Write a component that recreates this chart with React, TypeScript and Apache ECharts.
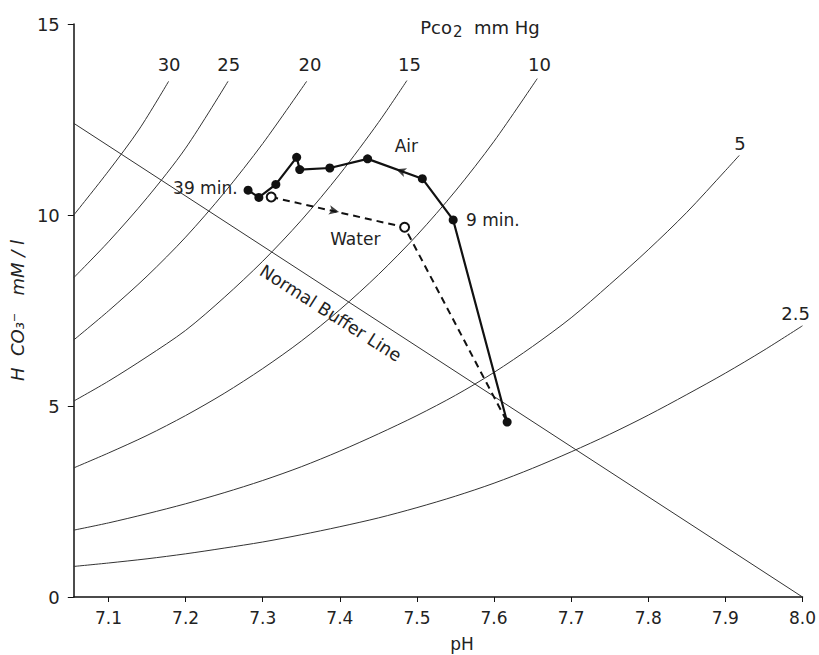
import React, { useEffect, useRef } from "react";
import * as echarts from "echarts";

// ---- data ----
const pHTicks = [7.1, 7.2, 7.3, 7.4, 7.5, 7.6, 7.7, 7.8, 7.9, 8.0];

// Pco2 isopleths: [pH, HCO3- mM/l]
const pco2_30 = [[7.055, 10.0], [7.1, 11.15], [7.14, 12.25], [7.178, 13.5]];
const pco2_25 = [[7.055, 8.36], [7.1, 9.3], [7.15, 10.45], [7.2, 11.75], [7.255, 13.5]];
const pco2_20 = [[7.055, 6.73], [7.1, 7.49], [7.15, 8.4], [7.2, 9.42], [7.25, 10.58], [7.3, 11.87], [7.357, 13.5]];
const pco2_15 = [[7.055, 5.13], [7.1, 5.65], [7.15, 6.29], [7.2, 6.98], [7.25, 7.84], [7.3, 8.79], [7.35, 9.86], [7.4, 11.07], [7.45, 12.42], [7.487, 13.52]];
const pco2_10 = [[7.055, 3.38], [7.1, 3.77], [7.15, 4.23], [7.2, 4.75], [7.25, 5.33], [7.3, 5.98], [7.35, 6.7], [7.4, 7.52], [7.45, 8.44], [7.5, 9.47], [7.55, 10.63], [7.6, 11.93], [7.656, 13.57]];
const pco2_5 = [[7.055, 1.75], [7.1, 1.94], [7.15, 2.18], [7.2, 2.44], [7.25, 2.73], [7.3, 3.05], [7.35, 3.41], [7.4, 3.82], [7.45, 4.27], [7.5, 4.75], [7.55, 5.28], [7.6, 5.88], [7.65, 6.56], [7.7, 7.31], [7.75, 8.18], [7.8, 9.09], [7.85, 10.07], [7.9, 11.16], [7.918, 11.56]];
const pco2_2_5 = [[7.055, 0.8], [7.1, 0.89], [7.15, 1.0], [7.2, 1.13], [7.25, 1.28], [7.3, 1.44], [7.35, 1.63], [7.4, 1.84], [7.45, 2.07], [7.5, 2.34], [7.55, 2.64], [7.6, 2.98], [7.65, 3.37], [7.7, 3.8], [7.75, 4.26], [7.8, 4.76], [7.85, 5.3], [7.9, 5.86], [7.95, 6.46], [8.0, 7.1]];

const bufferLine = [[7.055, 12.4], [8.0, 0]];

// Air exposure (filled dots), from start to 39 min
const airPath = [[7.617, 4.58], [7.547, 9.87], [7.507, 10.95], [7.436, 11.47], [7.387, 11.23], [7.348, 11.19], [7.344, 11.51], [7.317, 10.8], [7.295, 10.46], [7.281, 10.65]];
// Water (open circles) back to start
const waterPath = [[7.311, 10.47], [7.484, 9.68], [7.617, 4.58]];

const isopleths = [
  { name: "30", data: pco2_30 },
  { name: "25", data: pco2_25 },
  { name: "20", data: pco2_20 },
  { name: "15", data: pco2_15 },
  { name: "10", data: pco2_10 },
  { name: "5", data: pco2_5 },
  { name: "2.5", data: pco2_2_5 },
];

// label anchor points (data coords)
const curveLabelPos = [
  [7.1786, 13.93], [7.2559, 13.93], [7.3614, 13.93], [7.4902, 13.93], [7.6588, 13.95], [7.9189, 11.88], [7.991, 7.43],
];

const FONT = "DejaVu Sans";
const INK = "#222";

export default function App() {
  const ref = useRef<HTMLDivElement>(null);

  useEffect(() => {
    if (!ref.current) return;
    document.body.style.margin = "0";
    document.body.style.overflow = "hidden";
    const chart = echarts.init(ref.current, null, { renderer: "svg", width: 819, height: 655 });

    const series: any[] = isopleths.map((c) => ({
      name: "Pco2 " + c.name,
      type: "line",
      data: c.data,
      showSymbol: false,
      smooth: 0.3,
      silent: true,
      lineStyle: { color: "#333", width: 1 },
    }));
    series.push({
      name: "Normal Buffer Line",
      type: "line",
      data: bufferLine,
      showSymbol: false,
      silent: true,
      lineStyle: { color: "#333", width: 1 },
    });
    series.push({
      name: "Water",
      type: "line",
      data: waterPath.map((p, i) => ({
        value: p,
        symbol: i === waterPath.length - 1 ? "none" : "emptyCircle",
      })),
      showSymbol: true,
      showAllSymbol: true,
      symbolSize: 9,
      itemStyle: { color: "#111", borderWidth: 1.5 },
      lineStyle: { color: "#111", width: 2, type: [7, 5] },
      z: 3,
    });
    series.push({
      name: "Air",
      type: "line",
      data: airPath,
      symbol: "circle",
      symbolSize: 9,
      showAllSymbol: true,
      itemStyle: { color: "#111" },
      lineStyle: { color: "#111", width: 2.2 },
      z: 4,
    });
    series.push({
      name: "arrows",
      type: "scatter",
      symbol: "arrow",
      symbolSize: [7, 10],
      itemStyle: { color: "#111" },
      data: [
        { value: [7.473, 11.2], symbolRotate: 70 },
        { value: [7.399, 10.08], symbolRotate: -102 },
      ],
      z: 5,
    });

    chart.setOption({
      animation: false,
      backgroundColor: "#fff",
      grid: { left: 70, right: 15, top: 24, bottom: 58 },
      xAxis: {
        type: "value",
        min: 7.055,
        max: 8.0,
        axisLine: { lineStyle: { color: "#111", width: 1.5 } },
        axisTick: { show: true, length: 5, customValues: pHTicks, lineStyle: { color: "#111" } },
        axisLabel: {
          customValues: pHTicks,
          formatter: (v: number) => v.toFixed(1),
          fontFamily: FONT,
          fontSize: 17,
          color: INK,
          margin: 12,
        },
        splitLine: { show: false },
      },
      yAxis: {
        type: "value",
        min: 0,
        max: 15,
        interval: 5,
        name: "H  CO\u2083\u207B   mM / l",
        nameLocation: "middle",
        nameGap: 46,
        nameTextStyle: { fontFamily: FONT, fontSize: 18, fontStyle: "italic", color: INK },
        axisLine: { show: true, lineStyle: { color: "#111", width: 1.5 } },
        axisTick: { show: true, length: 6, lineStyle: { color: "#111" } },
        axisLabel: { fontFamily: FONT, fontSize: 18, color: INK, margin: 14 },
        splitLine: { show: false },
      },
      series,
    });

    const px = (p: number[]) => chart.convertToPixel({ gridIndex: 0 }, p) as number[];
    const txt = (text: string, p: number[], align: string, extra: any = {}) => {
      const [x, y] = px(p);
      return {
        type: "text",
        x,
        y,
        silent: true,
        style: {
          text,
          fontFamily: FONT,
          fontSize: 17,
          fill: INK,
          align,
          verticalAlign: "middle",
          ...extra,
        },
      };
    };

    const graphics: any[] = [];
    isopleths.forEach((c, i) => graphics.push(txt(c.name, curveLabelPos[i], "center", { fontSize: 18 })));
    graphics.push(txt("39 min.", [7.2674, 10.71], "right"));
    graphics.push(txt("9 min.", [7.5636, 9.87], "left"));
    graphics.push(txt("Air", [7.4863, 11.81], "center"));
    graphics.push(txt("Water", [7.42, 9.37], "center"));
    const nb = txt("Normal Buffer Line", [7.388, 7.43], "center", { fontSize: 17.5 });
    (nb as any).rotation = (-32.5 * Math.PI) / 180;
    graphics.push(nb);
    graphics.push({
      type: "text",
      x: 480,
      y: 27,
      silent: true,
      style: {
        text: "{a|Pco}{s|2}{a|  mm Hg}",
        align: "center",
        verticalAlign: "middle",
        fill: INK,
        rich: {
          a: { fontFamily: FONT, fontSize: 18, fill: INK },
          s: { fontFamily: FONT, fontSize: 15, fill: INK, padding: [10, 0, 0, 1] },
        },
      },
    });
    graphics.push({
      type: "text",
      x: 462,
      y: 644,
      silent: true,
      style: { text: "pH", fontFamily: FONT, fontSize: 17, fill: INK, align: "center", verticalAlign: "middle" },
    });
    chart.setOption({ graphic: graphics });

    return () => chart.dispose();
  }, []);

  return <div ref={ref} style={{ width: 819, height: 655 }} />;
}
